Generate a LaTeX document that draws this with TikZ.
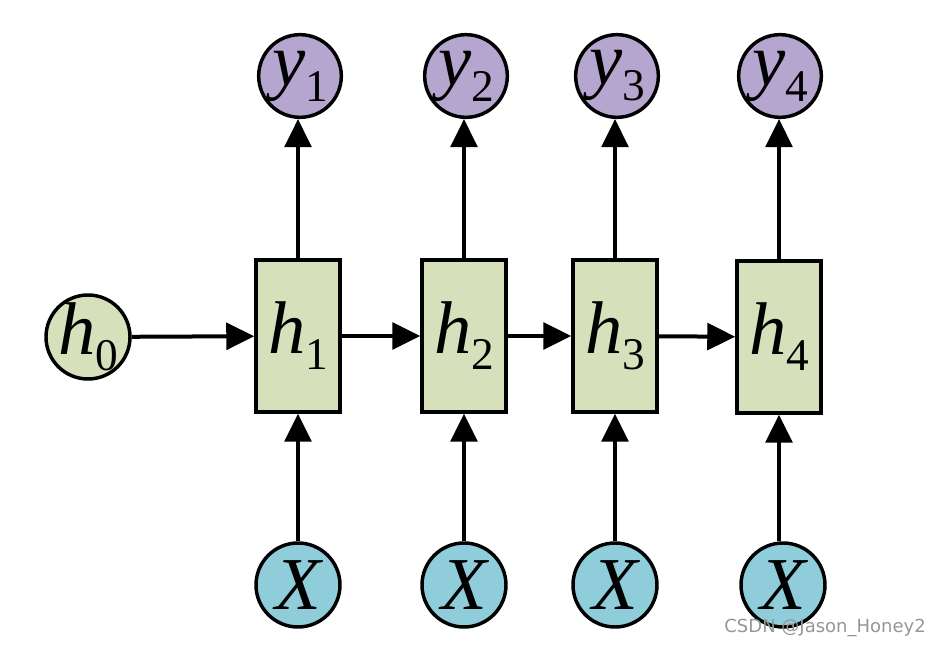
\documentclass[tikz,border=0pt]{standalone}
\usepackage{fontspec}
\setmainfont{Liberation Serif}
\newfontfamily\markfont{DejaVu Sans}
\usetikzlibrary{arrows.meta}
\definecolor{cellgreen}{RGB}{214,225,188}
\definecolor{outpurple}{RGB}{180,166,206}
\definecolor{inblue}{RGB}{143,205,219}
\definecolor{markgray}{RGB}{150,150,150}
\newcommand{\var}[2]{\makebox[0pt]{{\fontsize{56}{56}\selectfont\itshape #1}\raisebox{-12pt}{\fontsize{34}{34}\selectfont #2}}}
\begin{document}
\begin{tikzpicture}[x=0.75pt,y=-0.75pt,
  state/.style={circle,draw,line width=2.6pt,fill=cellgreen,minimum size=63pt,inner sep=0pt},
  cell/.style={rectangle,draw,line width=2.6pt,fill=cellgreen,minimum width=63pt,minimum height=114pt,inner sep=0pt},
  outnode/.style={circle,draw,line width=2.6pt,fill=outpurple,minimum size=62pt,inner sep=0pt},
  innode/.style={circle,draw,line width=2.6pt,fill=inblue,minimum size=63pt,inner sep=0pt},
  link/.style={line width=3pt,-{Triangle[length=21pt,width=20pt]}}]
\useasboundingbox (0,0) rectangle (940,648);
% hidden states
\node[state] (h0) at (88,337) {\var{h}{0}};
\node[cell] (h1) at (298,336) {\var{h}{1}};
\node[cell] (h2) at (464,336) {\var{h}{2}};
\node[cell] (h3) at (615,336) {\var{h}{3}};
\node[cell] (h4) at (779,337) {\var{h}{4}};
% outputs
\node[outnode] (y1) at (300,76) {\var{y}{1}};
\node[outnode] (y2) at (466,76) {\var{y}{2}};
\node[outnode] (y3) at (617,76) {\var{y}{3}};
\node[outnode] (y4) at (780,76) {\var{y}{4}};
% inputs
\node[innode] (x1) at (298,585) {\fontsize{56}{56}\selectfont\itshape X};
\node[innode] (x2) at (464,585) {\fontsize{56}{56}\selectfont\itshape X};
\node[innode] (x3) at (615,585) {\fontsize{56}{56}\selectfont\itshape X};
\node[innode] (x4) at (783,585) {\fontsize{56}{56}\selectfont\itshape X};
% recurrence
\draw[link] (h0) -- (h1);
\draw[link] (h1) -- (h2);
\draw[link] (h2) -- (h3);
\draw[link] (h3) -- (h4);
% outputs and inputs
\draw[link] (h1.north) -- (h1.north |- y1.south);
\draw[link] (h2.north) -- (h2.north |- y2.south);
\draw[link] (h3.north) -- (h3.north |- y3.south);
\draw[link] (h4.north) -- (h4.north |- y4.south);
\draw[link] (x1.north) -- (h1.south);
\draw[link] (x2.north) -- (h2.south);
\draw[link] (x3.north) -- (h3.south);
\draw[link] (x4.north -| h4.south) -- (h4.south);
\node[anchor=east,text=markgray,inner sep=0pt] (mark) at (926,628) {\markfont\fontsize{13.5}{16}\selectfont CSDN @Jason\_Honey2};
\end{tikzpicture}
\end{document}
